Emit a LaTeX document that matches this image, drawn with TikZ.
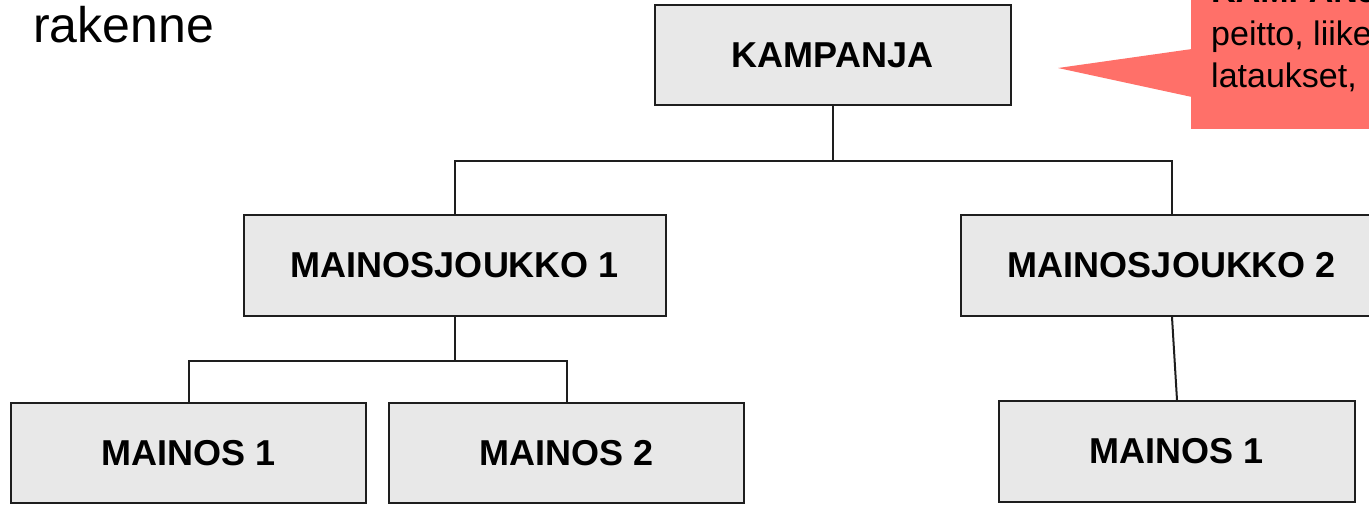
\documentclass[tikz,border=0pt]{standalone}
\usepackage{fontspec}
\setmainfont{Liberation Sans}
\usetikzlibrary{calc}
\definecolor{boxfill}{HTML}{E8E8E8}
\definecolor{boxline}{HTML}{1E1E1E}
\definecolor{callred}{HTML}{FF7069}
\tikzset{
  orgbox/.style={draw=boxline, line width=2pt, fill=boxfill, inner sep=0pt,
    font=\fontsize{36}{40}\selectfont\bfseries, text=black},
  link/.style={draw=boxline, line width=2pt},
  calltext/.style={anchor=base west, inner sep=0pt, font=\fontsize{34}{40}\selectfont, text=black},
}
\begin{document}
\begin{tikzpicture}[x=1pt,y=-1pt]
\useasboundingbox (0,0) rectangle (1369,504);
\clip (0,0) rectangle (1369,504);
% title fragment
\node[anchor=base west, inner sep=0pt, font=\fontsize{50}{54}\selectfont] (title) at (33,42.5) {rakenne};
% boxes
\node[orgbox, minimum width=356pt, minimum height=100pt] (kamp) at (832.5,55) {KAMPANJA};
\node[orgbox, minimum width=422pt, minimum height=101pt] (mj1) at (455,265.5) {MAINOSJOUKKO 1};
\node[orgbox, minimum width=422pt, minimum height=101pt] (mj2) at (1172,265.5) {MAINOSJOUKKO 2};
\node[orgbox, minimum width=355pt, minimum height=100pt] (m1) at (188.5,453) {MAINOS 1};
\node[orgbox, minimum width=355pt, minimum height=100pt] (m2) at (566.5,453) {MAINOS 2};
\node[orgbox, minimum width=356pt, minimum height=101pt] (m3) at (1177,451.5) {MAINOS 1};
% connectors
\draw[link] (kamp.south) -- ++(0,55) coordinate (kj) -| (mj1.north);
\draw[link] (kj) -| (mj2.north);
\draw[link] (mj1.south) -- ++(0,43.5) coordinate (mj) -| (m1.north);
\draw[link] (mj) -| (m2.north);
\draw[link] (mj2.south) -- (m3.north);
% callout
\fill[callred] (1191,-10) rectangle (1400,129);
\fill[callred] (1058,68) -- (1192,49) -- (1192,97) -- cycle;
\node[calltext, font=\fontsize{34}{40}\selectfont\bfseries] (cl1) at (1211,2.5) {KAMPANJA};
\node[calltext] (cl2) at (1211,45) {peitto, liikenne,};
\node[calltext] (cl3) at (1211,87.5) {lataukset,};
\end{tikzpicture}
\end{document}
